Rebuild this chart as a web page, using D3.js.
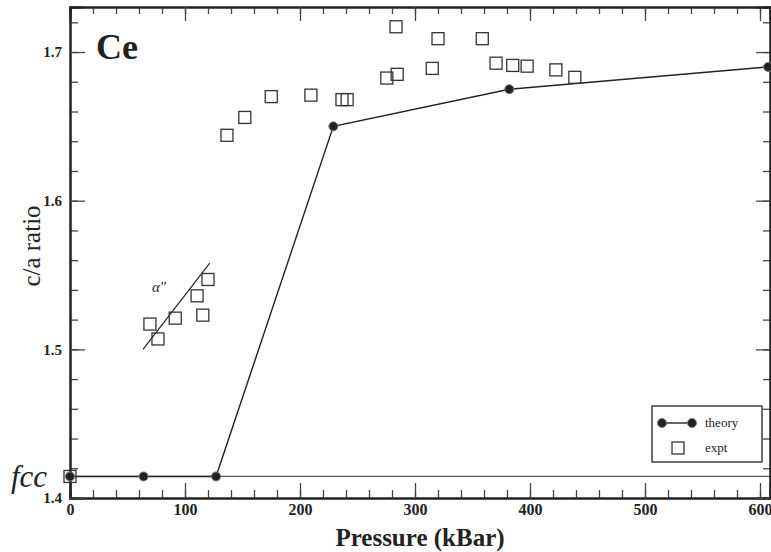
<!DOCTYPE html>
<html>
<head>
<meta charset="utf-8">
<script src="https://cdn.jsdelivr.net/npm/d3@7"></script>
<style>
  body { margin: 0; background: #fff; }
  text { font-family: "Liberation Serif", "DejaVu Serif", serif; fill: #222; }
</style>
</head>
<body>
<svg id="chart" width="771" height="552"></svg>
<script>
// theory curve (pressure kBar, c/a)
const theoryP = [0, 64, 127, 229, 382, 607];
const theoryCA = [1.4145, 1.4145, 1.4145, 1.650, 1.675, 1.690];

// experimental points
const exptP = [0, 136.5, 152, 175, 209.5, 236.5, 241, 275.5, 284.5, 283.5, 320, 315, 358.5, 370.5, 385, 397.5, 422.5, 439,
  120, 110.5, 115.5, 91.5, 69.5, 76.5];
const exptCA = [1.4145, 1.644, 1.656, 1.670, 1.671, 1.668, 1.668, 1.6825, 1.685, 1.717, 1.709, 1.689, 1.709, 1.6925, 1.691, 1.6905, 1.688, 1.683,
  1.547, 1.536, 1.523, 1.521, 1.517, 1.507];

// alpha'' guide line
const alphaP = [63.5, 121.5];
const alphaCA = [1.500, 1.558];

const fccCA = 1.4145;
const xTicks = [0, 100, 200, 300, 400, 500, 600];
const yTicks = [1.4, 1.5, 1.6, 1.7];

const svg = d3.select("#chart");
const mLeft = 70, mRight = 770, mTop = 7, mBottom = 498;

const x = d3.scaleLinear().domain([0, 608.7]).range([mLeft, mRight]);
const y = d3.scaleLinear().domain([1.4, 1.7303]).range([mBottom, mTop]);

const ink = "#222";

// axes with inward ticks on all four sides
const xMinor = d3.range(0, 609, 20);
const yMinor = d3.range(1.4, 1.731, 0.02);

const gB = svg.append("g").attr("transform", `translate(0,${mBottom})`);
gB.call(d3.axisTop(x).tickValues(xMinor).tickSize(8).tickFormat(""));
gB.append("g").call(d3.axisTop(x).tickValues(xTicks).tickSize(15).tickFormat(""));
svg.append("g").attr("transform", `translate(0,${mBottom})`)
  .call(d3.axisBottom(x).tickValues(xTicks).tickSize(0).tickPadding(6).tickFormat(d3.format("d")))
  .call(g => g.select(".domain").remove())
  .selectAll("text").attr("font-size", 16).attr("font-weight", "bold");

const gT = svg.append("g").attr("transform", `translate(0,${mTop})`);
gT.call(d3.axisBottom(x).tickValues(xMinor).tickSize(7).tickFormat(""));
gT.append("g").call(d3.axisBottom(x).tickValues(xTicks).tickSize(14).tickFormat(""));

const gL = svg.append("g").attr("transform", `translate(${mLeft},0)`);
gL.call(d3.axisRight(y).tickValues(yMinor).tickSize(8).tickFormat(""));
gL.append("g").call(d3.axisRight(y).tickValues(yTicks).tickSize(15).tickFormat(""));
svg.append("g").attr("transform", `translate(${mLeft},0)`)
  .call(d3.axisLeft(y).tickValues(yTicks).tickSize(0).tickPadding(8).tickFormat(d3.format(".1f")))
  .call(g => g.select(".domain").remove())
  .selectAll("text").attr("font-size", 15).attr("font-weight", "bold");

const gR = svg.append("g").attr("transform", `translate(${mRight},0)`);
gR.call(d3.axisLeft(y).tickValues(yMinor).tickSize(7).tickFormat(""));
gR.append("g").call(d3.axisLeft(y).tickValues(yTicks).tickSize(14).tickFormat(""));

svg.selectAll(".domain").attr("stroke", ink).attr("stroke-width", 2);
svg.selectAll(".tick line").attr("stroke", "#444").attr("stroke-width", 1.3);

// fcc reference line
svg.append("line")
  .attr("x1", x(0)).attr("x2", mRight)
  .attr("y1", y(fccCA)).attr("y2", y(fccCA))
  .attr("stroke", "#555").attr("stroke-width", 1.2);

// alpha'' line
svg.append("line")
  .attr("x1", x(alphaP[0])).attr("y1", y(alphaCA[0]))
  .attr("x2", x(alphaP[1])).attr("y2", y(alphaCA[1]))
  .attr("stroke", ink).attr("stroke-width", 1.2);

// theory
const theory = theoryP.map((p, i) => [p, theoryCA[i]]);
svg.append("path")
  .datum(theory)
  .attr("fill", "none").attr("stroke", ink).attr("stroke-width", 1.4)
  .attr("d", d3.line().x(d => x(d[0])).y(d => y(d[1])));
svg.selectAll("circle.th").data(theory).enter().append("circle")
  .attr("class", "th")
  .attr("cx", d => x(d[0])).attr("cy", d => y(d[1])).attr("r", 4.5)
  .attr("fill", "#222").attr("stroke", "#777").attr("stroke-width", 1);

// experiment
const expt = exptP.map((p, i) => [p, exptCA[i]]);
const sq = 12;
svg.selectAll("rect.ex").data(expt).enter().append("rect")
  .attr("class", "ex")
  .attr("x", d => x(d[0]) - sq / 2).attr("y", d => y(d[1]) - sq / 2)
  .attr("width", sq).attr("height", sq)
  .attr("fill", "none").attr("stroke", "#333").attr("stroke-width", 1.3);

// labels
svg.append("text").attr("x", 96).attr("y", 59)
  .attr("font-size", 36).attr("font-weight", "bold").text("Ce");
svg.append("text").attr("x", 11).attr("y", 487)
  .attr("font-size", 31).attr("font-style", "italic").text("fcc");
svg.append("text").attr("x", 152).attr("y", 292)
  .attr("font-size", 15).attr("font-style", "italic").text("α″");

svg.append("text").attr("x", 420).attr("y", 546).attr("text-anchor", "middle")
  .attr("font-size", 25).attr("font-weight", "bold").text("Pressure (kBar)");
svg.append("text").attr("transform", "translate(40,246) rotate(-90)")
  .attr("text-anchor", "middle").attr("font-size", 25).text("c/a ratio");

// legend
const lg = svg.append("g");
lg.append("rect").attr("x", 652).attr("y", 406).attr("width", 110).attr("height", 56)
  .attr("fill", "#fff").attr("stroke", ink).attr("stroke-width", 1.3);
lg.append("line").attr("x1", 662).attr("x2", 692).attr("y1", 423).attr("y2", 423)
  .attr("stroke", ink).attr("stroke-width", 1.4);
[662, 692].forEach(cx => lg.append("circle").attr("cx", cx).attr("cy", 423).attr("r", 4.5)
  .attr("fill", "#222").attr("stroke", "#777"));
lg.append("rect").attr("x", 672).attr("y", 442).attr("width", sq).attr("height", sq)
  .attr("fill", "none").attr("stroke", "#333").attr("stroke-width", 1.3);
lg.append("text").attr("x", 705).attr("y", 427).attr("font-size", 13).attr("fill", "#555").text("theory");
lg.append("text").attr("x", 705).attr("y", 452).attr("font-size", 13).attr("fill", "#555").text("expt");
</script>
</body>
</html>
